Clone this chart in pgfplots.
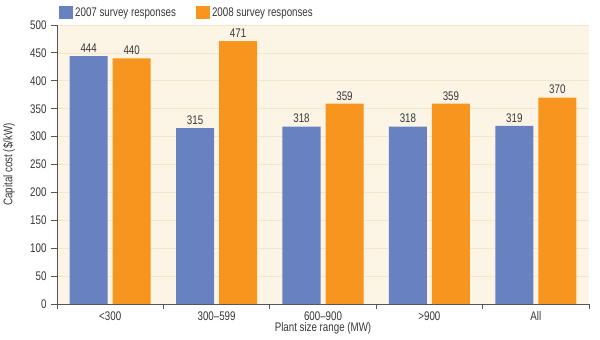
\documentclass[border=0pt]{standalone}
\usepackage{fontspec}
\setmainfont{Liberation Sans}[FakeStretch=0.78]
\usepackage{pgfplots}
\pgfplotsset{compat=1.18}
\definecolor{bluebar}{RGB}{103,129,193}
\definecolor{orangebar}{RGB}{247,149,30}
\definecolor{bgc}{RGB}{252,245,229}
\definecolor{gridc}{RGB}{242,230,206}
\definecolor{txt}{RGB}{55,55,55}
\definecolor{axc}{RGB}{90,85,80}
\pgfplotsset{sqleg/.style={legend image code/.code={\fill[##1,draw=none] (0pt,-6.5pt) rectangle (14pt,6.5pt);}}}
\begin{document}
\begin{tikzpicture}
\useasboundingbox (-57pt,-36pt) rectangle (543pt,304pt);
\begin{axis}[
  at={(0,0)}, anchor=south west,
  scale only axis, width=532pt, height=279pt,
  xmin=-0.5, xmax=4.5, ymin=0, ymax=500,
  ytick={0,50,...,500},
  xtick={0,1,2,3,4},
  xticklabels={<300,300--599,600--900,>900,All},
  minor xtick={-0.5,0.5,1.5,2.5,3.5,4.5},
  major x tick style={draw=none},
  tick align=outside,
  major tick length=6pt, minor tick length=5pt,
  tick style={axc, line width=0.8pt},
  axis x line*=bottom, axis y line*=left,
  axis line style={axc, line width=0.9pt, -},
  axis background/.style={fill=bgc},
  ymajorgrids, major grid style={gridc, line width=0.7pt},
  /pgf/number format/assume math mode=true,
  ticklabel style={font=\fontsize{12.5}{13}\selectfont, text=txt},
  yticklabel style={xshift=-1pt},
  xticklabel style={yshift=2pt},
  xlabel={Plant size range (MW)},
  ylabel={Capital cost (\$/kW)},
  label style={font=\fontsize{12.5}{13}\selectfont, text=txt},
  xlabel style={at={(axis description cs:0.5,-0.086)}, anchor=center},
  ylabel style={at={(axis description cs:-0.09,0.5)}, anchor=center},
  ybar=5pt, bar width=38pt,
  nodes near coords,
  every node near coord/.append style={font=\fontsize{12.5}{13}\selectfont, text=txt},
  legend style={at={(0,1)}, anchor=south west, xshift=-1pt, yshift=3pt, draw=none, fill=none,
    legend columns=2, font=\fontsize{12.5}{13}\selectfont, text=txt,
    /tikz/every even column/.append style={column sep=18pt}},
]
\addplot[fill=bluebar, draw=none, sqleg] coordinates {(0,444) (1,315) (2,318) (3,318) (4,319)};
\addplot[fill=orangebar, draw=none, sqleg] coordinates {(0,440) (1,471) (2,359) (3,359) (4,370)};
\legend{2007 survey responses, 2008 survey responses}
\end{axis}
\end{tikzpicture}
\end{document}
